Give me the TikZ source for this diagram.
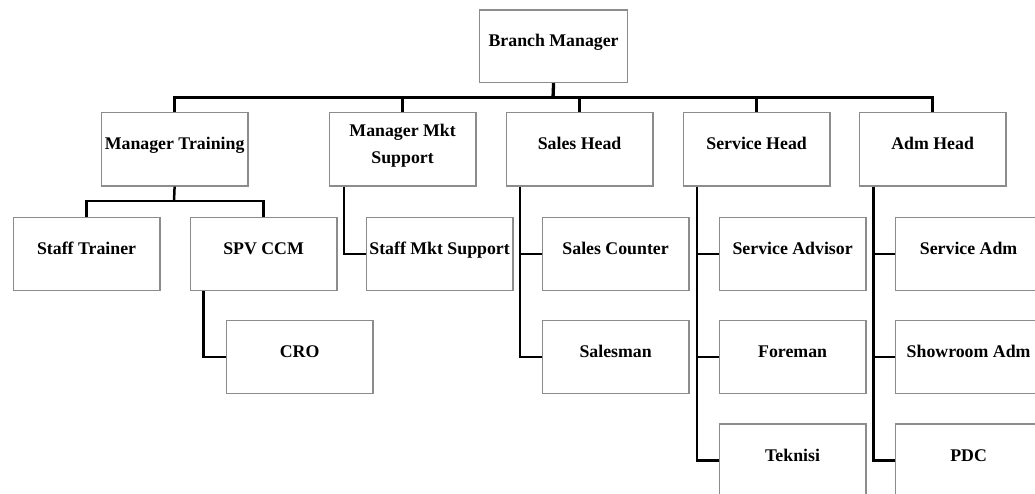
\documentclass[tikz,border=0pt]{standalone}
\usepackage{fontspec}
\setmainfont{Liberation Serif}
\usetikzlibrary{calc}
\begin{document}
\begin{tikzpicture}[x=1pt,y=-1pt,
  unitbox/.style={draw=black!45,line width=1.2pt,minimum width=146.6pt,minimum height=73.4pt,inner sep=0pt,anchor=north west},
  unittext/.style={anchor=base,inner sep=0pt,align=center,font=\fontsize{17.8}{26.7}\selectfont\bfseries},
  link/.style={draw=black,line width=2.5pt},
  rootlink/.style={draw=black,line width=3.3pt}]
\useasboundingbox (0,0) rectangle (1035,494);
\clip (0,0) rectangle (1035,494);

% \unit{name}{left}{top}{text}: box with its title on the given baseline
\newcommand{\unit}[4]{%
  \node[unitbox] (#1) at (#2,#3) {};
  \node[unittext] (#1-t) at ($(#1.north)+(0,38)$) {#4};}
% two-line title: the base anchor sits on the last line
\newcommand{\unitb}[4]{%
  \node[unitbox] (#1) at (#2,#3) {};
  \node[unittext] (#1-t) at ($(#1.north)+(0,51.4)$) {#4};}

% top level
\node[unitbox,minimum width=148pt,minimum height=72.5pt] (BM) at (479,9.5) {};
\node[unittext] (BM-t) at ($(BM.north)+(0,37)$) {Branch Manager};

% second level
\unit{MT}{100.7}{112}{Manager Training}
\unitb{MMS}{328.7}{112}{Manager Mkt\\Support}
\unit{SH}{505.7}{112}{Sales Head}
\unit{SvH}{682.7}{112}{Service Head}
\unit{AH}{858.7}{112}{Adm Head}

% third level
\unit{ST}{12.7}{216.7}{Staff Trainer}
\unit{SPV}{189.7}{216.7}{SPV CCM}
\unit{SMS}{365.7}{216.7}{Staff Mkt Support}
\unit{SC}{541.7}{216.7}{Sales Counter}
\unit{SA}{718.7}{216.7}{Service Advisor}
\unit{SAdm}{894.7}{216.7}{Service Adm}

% fourth level
\unit{CRO}{225.7}{319.7}{CRO}
\unit{SM}{541.7}{319.7}{Salesman}
\unit{FM}{718.7}{319.7}{Foreman}
\unit{SRA}{894.7}{319.7}{Showroom Adm}

% fifth level
\unit{TK}{718.7}{423.3}{Teknisi}
\unit{PDC}{894.7}{423.3}{PDC}

% branch manager to heads
\coordinate (bus) at (553,97.7);
\draw[rootlink] (BM.south) -- (bus);
\draw[link] (MT.north) |- (bus) -| (AH.north);
\foreach \n in {MMS,SH,SvH} \draw[link] (\n.north) -- (\n.north |- bus);

% manager training to its staff
\coordinate (mtbus) at (174,201);
\draw[link] (MT.south) -- (mtbus);
\draw[link] (ST.north) |- (mtbus) -| (SPV.north);

% side branches
\draw[link] ([xshift=14pt]SPV.south west) |- (CRO.west);
\draw[link] ([xshift=15.3pt]MMS.south west) |- (SMS.west);
\draw[link] ([xshift=14.3pt]SH.south west) |- (SM.west);
\draw[link] ([xshift=14.3pt]SH.south west |- SC.west) -- (SC.west);
\draw[link] ([xshift=14.3pt]SvH.south west) |- (TK.west);
\draw[link] ([xshift=14.3pt]SvH.south west |- SA.west) -- (SA.west);
\draw[link] ([xshift=14.3pt]SvH.south west |- FM.west) -- (FM.west);
\draw[link] ([xshift=15pt]AH.south west) |- (PDC.west);
\draw[link] ([xshift=15pt]AH.south west |- SAdm.west) -- (SAdm.west);
\draw[link] ([xshift=15pt]AH.south west |- SRA.west) -- (SRA.west);
\end{tikzpicture}
\end{document}
